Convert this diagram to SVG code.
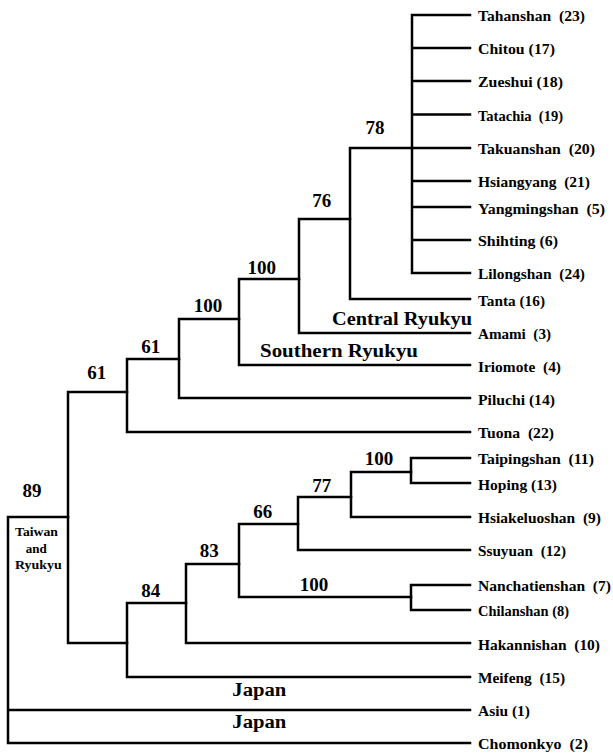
<svg xmlns="http://www.w3.org/2000/svg" width="613" height="754" viewBox="0 0 613 754">
<style>
.e{fill:none;stroke:#000;stroke-width:2.5;stroke-linejoin:miter;stroke-linecap:square}
text{font-family:"Liberation Serif","Times New Roman","DejaVu Serif",serif;font-weight:bold;fill:#000;white-space:pre}
.l{font-size:14.5px}
.b{font-size:19px;text-anchor:middle}
.g{font-size:18px}
.s{font-size:12.5px}
</style>
<rect width="613" height="754" fill="#fff"/>
<g id="connectors">
<path class="e" d="M470 15H412V273H470M412 48H470M412 81H470M412 114.5H470M412 181H470M412 207H470M412 240H470"/>
<path class="e" d="M470 148H350V299H470"/>
<path class="e" d="M350 219H299V333H470"/>
<path class="e" d="M299 279H239V365H470"/>
<path class="e" d="M239 319H179V398H470"/>
<path class="e" d="M179 359H127V432H470"/>
<path class="e" d="M127 392H68V643H127"/>
<path class="e" d="M186 603H127V677H470"/>
<path class="e" d="M239 564H186V643H470"/>
<path class="e" d="M298 524H239V597H411"/>
<path class="e" d="M351 497H298V550H470"/>
<path class="e" d="M411 472H351V517H470"/>
<path class="e" d="M470 458H411V483H470"/>
<path class="e" d="M470 585H411V610H470"/>
<path class="e" d="M68 517H8V743H470M8 710H470"/>
</g>
<g id="leaf-tahanshan"><text class="l" x="478" y="21" textLength="107" lengthAdjust="spacingAndGlyphs">Tahanshan  (23)</text></g>
<g id="leaf-chitou"><text class="l" x="478" y="54" textLength="77" lengthAdjust="spacingAndGlyphs">Chitou (17)</text></g>
<g id="leaf-zueshui"><text class="l" x="478" y="87" textLength="85" lengthAdjust="spacingAndGlyphs">Zueshui (18)</text></g>
<g id="leaf-tatachia"><text class="l" x="478" y="120.5" textLength="85" lengthAdjust="spacingAndGlyphs">Tatachia  (19)</text></g>
<g id="leaf-takuanshan"><text class="l" x="478" y="154" textLength="117" lengthAdjust="spacingAndGlyphs">Takuanshan  (20)</text></g>
<g id="leaf-hsiangyang"><text class="l" x="478" y="187" textLength="112" lengthAdjust="spacingAndGlyphs">Hsiangyang  (21)</text></g>
<g id="leaf-yangmingshan"><text class="l" x="478" y="214" textLength="127" lengthAdjust="spacingAndGlyphs">Yangmingshan  (5)</text></g>
<g id="leaf-shihting"><text class="l" x="478" y="246" textLength="80" lengthAdjust="spacingAndGlyphs">Shihting (6)</text></g>
<g id="leaf-lilongshan"><text class="l" x="478" y="279" textLength="107" lengthAdjust="spacingAndGlyphs">Lilongshan  (24)</text></g>
<g id="leaf-tanta"><text class="l" x="478" y="306" textLength="67" lengthAdjust="spacingAndGlyphs">Tanta (16)</text></g>
<g id="leaf-amami"><text class="l" x="478" y="339" textLength="73" lengthAdjust="spacingAndGlyphs">Amami  (3)</text></g>
<g id="leaf-iriomote"><text class="l" x="478" y="372" textLength="83" lengthAdjust="spacingAndGlyphs">Iriomote  (4)</text></g>
<g id="leaf-piluchi"><text class="l" x="478" y="405" textLength="77" lengthAdjust="spacingAndGlyphs">Piluchi (14)</text></g>
<g id="leaf-tuona"><text class="l" x="478" y="438" textLength="76" lengthAdjust="spacingAndGlyphs">Tuona  (22)</text></g>
<g id="leaf-taipingshan"><text class="l" x="478" y="464" textLength="116" lengthAdjust="spacingAndGlyphs">Taipingshan  (11)</text></g>
<g id="leaf-hoping"><text class="l" x="478" y="490" textLength="79" lengthAdjust="spacingAndGlyphs">Hoping (13)</text></g>
<g id="leaf-hsiakeluoshan"><text class="l" x="478" y="523" textLength="123" lengthAdjust="spacingAndGlyphs">Hsiakeluoshan  (9)</text></g>
<g id="leaf-ssuyuan"><text class="l" x="478" y="556" textLength="88" lengthAdjust="spacingAndGlyphs">Ssuyuan  (12)</text></g>
<g id="leaf-nanchatienshan"><text class="l" x="478" y="591" textLength="133" lengthAdjust="spacingAndGlyphs">Nanchatienshan  (7)</text></g>
<g id="leaf-chilanshan"><text class="l" x="478" y="616" textLength="91" lengthAdjust="spacingAndGlyphs">Chilanshan (8)</text></g>
<g id="leaf-hakannishan"><text class="l" x="478" y="649.5" textLength="122" lengthAdjust="spacingAndGlyphs">Hakannishan  (10)</text></g>
<g id="leaf-meifeng"><text class="l" x="478" y="683" textLength="87" lengthAdjust="spacingAndGlyphs">Meifeng  (15)</text></g>
<g id="leaf-asiu"><text class="l" x="478" y="716" textLength="52" lengthAdjust="spacingAndGlyphs">Asiu (1)</text></g>
<g id="leaf-chomonkyo"><text class="l" x="478" y="749" textLength="110" lengthAdjust="spacingAndGlyphs">Chomonkyo  (2)</text></g>
<g id="node-78"><text class="b" x="375" y="134">78</text></g>
<g id="node-76"><text class="b" x="321.7" y="206.7">76</text></g>
<g id="node-100a"><text class="b" x="261.7" y="274">100</text></g>
<g id="node-100b"><text class="b" x="208" y="312">100</text></g>
<g id="node-61a"><text class="b" x="150.7" y="352.5">61</text></g>
<g id="node-61b"><text class="b" x="96.7" y="379">61</text></g>
<g id="node-89"><text class="b" x="32" y="497.3">89</text></g>
<g id="node-84"><text class="b" x="150.7" y="597">84</text></g>
<g id="node-83"><text class="b" x="209.3" y="557">83</text></g>
<g id="node-66"><text class="b" x="262.7" y="518">66</text></g>
<g id="node-77"><text class="b" x="321.7" y="492">77</text></g>
<g id="node-100c"><text class="b" x="379" y="465">100</text></g>
<g id="node-100d"><text class="b" x="314" y="590.7">100</text></g>
<g id="label-central"><text class="g" x="332" y="325" textLength="140" lengthAdjust="spacingAndGlyphs">Central Ryukyu</text></g>
<g id="label-southern"><text class="g" x="260" y="356.7" textLength="158" lengthAdjust="spacingAndGlyphs">Southern Ryukyu</text></g>
<g id="label-japan1"><text class="g" x="232.3" y="696" textLength="54" lengthAdjust="spacingAndGlyphs">Japan</text></g>
<g id="label-japan2"><text class="g" x="232.3" y="728" textLength="54" lengthAdjust="spacingAndGlyphs">Japan</text></g>
<g id="label-taiwan"><text class="s" x="15" y="536" textLength="43" lengthAdjust="spacingAndGlyphs">Taiwan</text><text class="s" x="25.7" y="553.3" textLength="21" lengthAdjust="spacingAndGlyphs">and</text><text class="s" x="15" y="569.3" textLength="46.7" lengthAdjust="spacingAndGlyphs">Ryukyu</text></g>
</svg>
